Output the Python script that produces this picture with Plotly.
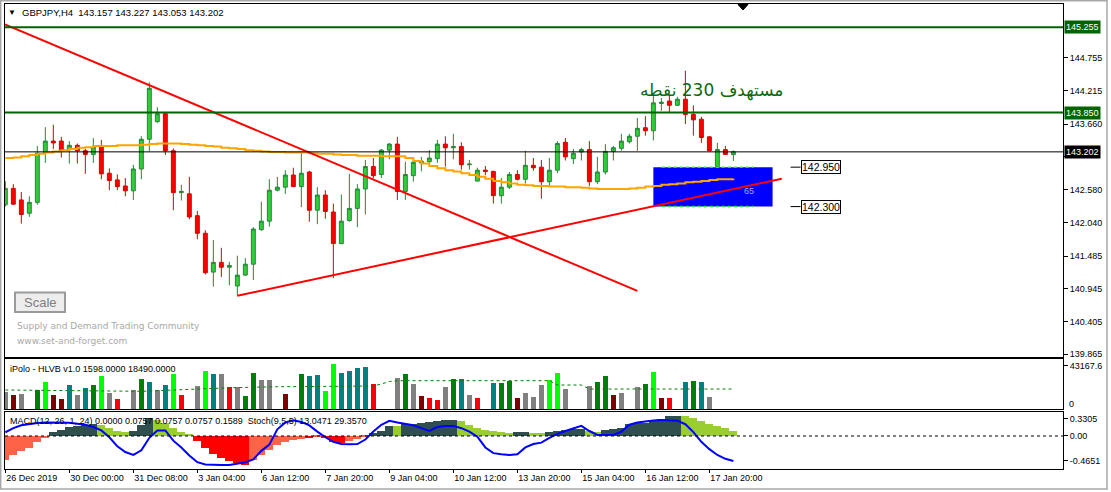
import plotly.graph_objects as go

# ---------------- data ----------------
bar_index = list(range(92))

opens = [142.33, 142.60, 142.41, 142.19, 142.37, 143.19, 143.38, 143.38, 143.24, 143.31,
         143.22, 143.16, 143.29, 142.85, 142.74, 142.64, 142.56, 142.92, 143.41, 143.70,
         143.83, 143.22, 142.53, 142.51, 142.15, 141.86, 141.22, 141.38, 141.30, 140.99,
         141.17, 141.35, 141.92, 142.06, 142.57, 142.62, 142.82, 142.63, 142.87, 142.24,
         142.49, 142.21, 141.69, 142.07, 142.27, 142.59, 142.96, 142.83, 143.23, 143.33,
         142.55, 142.81, 143.02, 143.04, 143.09, 143.33, 143.27, 143.29, 142.99, 142.72,
         142.90, 142.88, 142.48, 142.62, 142.83, 142.75, 142.98, 142.95, 142.71, 142.90,
         143.36, 143.09, 143.20, 143.24, 142.71, 142.87, 143.21, 143.26, 143.37, 143.46,
         143.60, 143.55, 144.00, 144.04, 143.97, 144.07, 143.82, 143.74, 143.45, 142.96,
         143.24, 143.157]
highs = [142.72, 142.67, 142.54, 142.47, 143.30, 143.61, 143.65, 143.45, 143.38, 143.34,
         143.25, 143.43, 143.40, 142.93, 142.83, 142.77, 142.99, 143.46, 144.35, 143.94,
         143.86, 143.26, 142.66, 142.79, 142.23, 141.91, 141.75, 141.62, 141.39, 141.49,
         141.45, 141.96, 142.38, 142.75, 142.79, 142.90, 142.94, 143.19, 142.89, 142.62,
         142.57, 142.35, 142.50, 142.84, 142.67, 143.07, 143.10, 143.25, 143.35, 143.45,
         143.04, 143.10, 143.12, 143.23, 143.40, 143.46, 143.50, 143.36, 143.07, 142.94,
         142.97, 142.89, 142.77, 142.87, 142.90, 143.22, 143.10, 143.07, 143.10, 143.38,
         143.43, 143.25, 143.27, 143.38, 143.12, 143.33, 143.30, 143.50, 143.50, 143.76,
         143.79, 144.13, 144.09, 144.14, 144.11, 144.54, 143.97, 143.78, 143.46, 143.35,
         143.30, 143.227]
lows = [142.30, 142.33, 142.02, 142.13, 142.33, 143.02, 143.25, 143.11, 143.01, 143.01,
        142.84, 143.02, 142.75, 142.57, 142.57, 142.47, 142.41, 142.75, 143.21, 143.68,
        143.15, 142.24, 142.40, 142.09, 141.76, 141.18, 140.98, 141.14, 141.00, 140.83,
        141.16, 141.09, 141.90, 141.97, 142.55, 142.51, 142.62, 142.29, 142.05, 142.01,
        142.10, 141.12, 141.68, 142.05, 141.96, 142.17, 142.77, 142.77, 143.08, 142.41,
        142.41, 142.71, 142.88, 143.01, 143.02, 142.96, 143.08, 142.91, 142.91, 142.72,
        142.82, 142.35, 142.35, 142.59, 142.73, 142.68, 142.89, 142.43, 142.64, 142.85,
        143.06, 143.00, 143.06, 142.64, 142.67, 142.83, 143.06, 143.22, 143.34, 143.22,
        143.47, 143.39, 143.88, 143.86, 143.96, 143.66, 143.47, 143.35, 143.21, 142.95,
        143.15, 143.053]
closes = [142.60, 142.34, 142.17, 142.37, 143.18, 143.38, 143.35, 143.23, 143.31, 143.22,
          143.16, 143.28, 142.84, 142.73, 142.63, 142.56, 142.92, 143.41, 144.25, 143.83,
          143.22, 142.53, 142.55, 142.13, 141.86, 141.21, 141.38, 141.30, 141.33, 141.17,
          141.35, 141.93, 142.06, 142.57, 142.62, 142.82, 142.63, 142.85, 142.24, 142.49,
          142.22, 141.69, 142.06, 142.27, 142.59, 142.96, 142.81, 143.23, 143.33, 142.55,
          142.83, 143.03, 143.05, 143.10, 143.33, 143.27, 143.29, 142.99, 143.00, 142.90,
          142.88, 142.48, 142.62, 142.83, 142.75, 142.98, 142.94, 142.71, 142.90, 143.34,
          143.12, 143.18, 143.24, 142.71, 142.87, 143.21, 143.27, 143.38, 143.46, 143.59,
          143.55, 144.01, 144.02, 143.97, 144.07, 143.82, 143.73, 143.44, 143.22, 143.24,
          143.16, 143.202]

ma_line = [143.10, 143.11, 143.13, 143.15, 143.17, 143.19, 143.21, 143.23,
           143.25, 143.27, 143.28, 143.30, 143.30, 143.30, 143.31, 143.31, 143.31,
           143.32, 143.33, 143.34, 143.34, 143.34, 143.33, 143.32, 143.31,
           143.30, 143.29, 143.27, 143.26, 143.25, 143.23, 143.22, 143.21, 143.20,
           143.20, 143.19, 143.19, 143.19, 143.18, 143.17, 143.17, 143.16,
           143.15, 143.15, 143.14, 143.14, 143.14, 143.13, 143.13, 143.13,
           143.10, 143.05, 143.01, 142.97, 142.93, 142.90, 142.88, 142.85,
           142.82, 142.79, 142.76, 142.72, 142.70, 142.68, 142.66, 142.65,
           142.64, 142.64, 142.63, 142.63, 142.62, 142.62, 142.61, 142.60,
           142.59, 142.59, 142.59, 142.59, 142.60, 142.61, 142.63, 142.64,
           142.66, 142.67, 142.68, 142.70, 142.71, 142.72, 142.74, 142.75,
           142.75, 142.76]

trend_down_x = [-0.04, 79.0]
trend_down_y = [145.305, 140.91]
trend_up_x = [29.0, 97.05]
trend_up_y = [140.83, 142.76]

level_top = 145.255
level_mid = 143.850
last_price = 143.202
zone_x = [81.0, 95.9]
zone_top = 142.950
zone_bottom = 142.300
zone_dash_x = [82.05, 93.5]
zone_label_x = 99.4

volume = [16700, 14300, 15300, None, 18700, 27300, 14300, 9700, 24300, 14300,
          21300, 24300, 33300, 15700, 9700, None, 18700, 30300, 27300, 18700,
          24300, 35300, 14300, None, 23300, 38300, 35300, 35300, 22300, 22300,
          13300, 36300, 29300, 29300, None, 15300, None, 35300, 33300, 34300,
          17700, 45300, 36300, 38300, 41300, 42300, 25300, None, None, 31300,
          35300, 25300, 13300, 11300, 8700, 22300, 30300, 30300, 14300, 11300,
          None, 26300, 26300, 28300, 11300, 16300, 12300, 24300, 29300, 35700,
          19700, None, None, 23300, 26700, 33300, 14300, 16300, None, 22300,
          25300, 37300, 11300, 11300, None, 26700, 28300, 26700, 12300, None,
          None, None]
volume_kind = ['g', 'm', 'g', '', 'd', 'l', 'm', 'm', 't', 'g',
               't', 'd', 'l', 'g', 'r', '', 'g', 'd', 't', 'g',
               't', 'l', 'r', '', 'g', 'l', 't', 'g', 'r', 'g',
               'd', 'd', 'g', 'g', '', 'm', '', 'd', 't', 't',
               'l', 'l', 't', 't', 't', 't', 'r', '', '', 'g',
               'd', 'g', 'm', 'r', 'r', 'g', 'd', 't', 'g', 'r',
               '', 't', 'd', 'd', 'm', 'g', 'g', 'g', 'l', 'l',
               'g', '', '', 'g', 'd', 'd', 'm', 'g', '', 'g',
               'd', 'l', 'm', 'r', '', 't', 'd', 't', 'g', '',
               '', '']
volume_avg = [19000, 18900, 18800, 18700, 18600, 18500, 18400, 18300, 18200, 18100,
              18000, 18000, 17900, 17800, 17700, 17500, 17300, 17700, 18000, 18400,
              18800, 19200, 19500, 19800, 20000, 20300, 20600, 20900, 21200, 21500,
              21700, 21900, 22100, 22200, 22300, 22300, 22400, 22500, 22600, 22700,
              22800, 22900, 23000, 23000, 23000, 23000, 23000, 25000, 27500, 28300,
              28300, 28300, 28300, 28300, 28300, 28300, 28300, 28300, 28300, 28300,
              28300, 28300, 28300, 28300, 28300, 28300, 28300, 28300, 28300, 24000,
              24000, 24000, 24000, 20000, 20000, 20000, 20000, 20000, 20000, 20000,
              20000, 20000, 20000, 20000, 20000, 20000, 20000, 20000, 20000, 20000,
              20000, 20000]

macd_hist = [-0.453, -0.358, -0.296, -0.233, -0.119, -0.044, 0.069, 0.113, 0.157, 0.189,
             0.208, 0.226, 0.208, 0.145, 0.094, 0.069, 0.094, 0.208, 0.333, 0.302,
             0.239, 0.145, 0.069, 0.019, -0.107, -0.233, -0.346, -0.421, -0.472, -0.516,
             -0.560, -0.453, -0.358, -0.264, -0.182, -0.126, -0.088, -0.057, -0.044, -0.031,
             -0.044, -0.119, -0.138, -0.094, -0.057, -0.031, 0.050, 0.094, 0.176, 0.189,
             0.220, 0.220, 0.239, 0.252, 0.283, 0.296, 0.302, 0.270, 0.208, 0.145,
             0.113, 0.094, 0.069, 0.050, 0.069, 0.069, 0.050, 0.044, 0.063, 0.094,
             0.113, 0.132, 0.132, 0.082, 0.069, 0.107, 0.119, 0.145, 0.226, 0.233,
             0.245, 0.302, 0.308, 0.365, 0.365, 0.365, 0.333, 0.270, 0.226, 0.189,
             0.145, 0.094]
macd_kind = ['s', 's', 's', 's', 's', 's', 'k', 'k', 'k', 'k',
             'k', 'k', 'y', 'y', 'y', 'y', 'k', 'k', 'k', 'y',
             'y', 'y', 'y', 'y', 'r', 'r', 'r', 'r', 'r', 'r',
             'r', 's', 's', 's', 's', 's', 's', 's', 'r', 's',
             'r', 'r', 'r', 's', 's', 's', 'k', 'k', 'k', 'y',
             'k', 'k', 'k', 'k', 'k', 'k', 'k', 'y', 'y', 'y',
             'y', 'y', 'y', 'y', 'k', 'k', 'y', 'y', 'k', 'k',
             'k', 'k', 'k', 'y', 'y', 'k', 'k', 'k', 'k', 'k',
             'k', 'k', 'k', 'k', 'k', 'y', 'y', 'y', 'y', 'y',
             'y', 'y']
stoch = [64.7, 72, 77, 79.5, 81, 82, 82.3, 82, 81.7, 80,
         78, 74, 68, 56, 40, 30, 25, 33, 55, 68,
         68, 50, 38, 24, 12, 8, 7, 7, 7, 9,
         12, 17, 32, 43, 70, 82, 86, 83, 77, 66,
         56, 48, 44, 43.5, 44, 52, 66, 78, 85, 82,
         79, 77, 72, 67, 74, 76, 76, 72, 66, 57,
         38, 28, 26, 24.5, 26, 38, 44, 46.5, 55, 62,
         67, 72, 76, 67, 60, 60, 60, 66, 78, 82,
         84, 85.5, 86.4, 86, 85.2, 79, 65, 48, 35, 24.7,
         18, 14]

time_tick_bars = [0, 8, 16, 24, 32, 40, 48, 56, 64, 72, 80, 88]
time_tick_labels = ["26 Dec 2019", "30 Dec 00:00", "31 Dec 08:00", "3 Jan 04:00",
                    "6 Jan 12:00", "7 Jan 20:00", "9 Jan 04:00", "10 Jan 12:00",
                    "13 Jan 20:00", "15 Jan 04:00", "16 Jan 12:00", "17 Jan 20:00"]
price_ticks = [144.755, 144.215, 143.660, 143.120, 142.580, 142.040,
               141.485, 140.945, 140.405, 139.865]
# the 143.120 label sits under the current-price box in the reference
price_tick_text = ["144.755", "144.215", "143.660", "", "142.580", "142.040",
                   "141.485", "140.945", "140.405", "139.865"]
volume_ticks = [43167.6]
macd_ticks = [0.3305, 0.0, -0.4651]
macd_tick_text = ["0.3305", "0.00", "-0.4651"]

title_text = "GBPJPY,H4\u00a0\u00a0143.157 143.227 143.053 143.202"
vol_label = "iPolo - HLVB v1.0 1598.0000 18490.0000"
macd_label = "MACD(12, 26, 1, 24) 0.0000 0.0757 0.0757 0.0757 0.1589\u00a0\u00a0Stoch(9,5,5) 13.0471 29.3570"
target_text = "مستهدف 230 نقطه"

# ---------------- layout geometry ----------------
W, H = 1111, 492
L, R, T, B = 5, 48, 4, 23
PW, PH = W - L - R, H - T - B


def px_x(px):
    return (px - L) / PW


def px_y(py):
    return (H - B - py) / PH


FONT = "Liberation Sans, Arial, sans-serif"
vol_cmap = {'g': '#808080', 'm': '#800000', 'd': '#008000', 'l': '#00FF00',
            't': '#008080', 'r': '#FF0000', '': 'rgba(0,0,0,0)'}
macd_cmap = {'s': '#FF6347', 'r': '#FF0000', 'k': '#2F4F4F', 'y': '#9ACD32'}

fig = go.Figure()

fig.add_trace(go.Candlestick(
    x=bar_index, open=opens, high=highs, low=lows, close=closes,
    increasing=dict(line=dict(color='#21873A', width=1), fillcolor='#32CD32'),
    decreasing=dict(line=dict(color='#D40000', width=1), fillcolor='#FF0000'),
    whiskerwidth=0, xaxis='x', yaxis='y', hoverinfo='skip'))

fig.add_trace(go.Scatter(x=bar_index, y=ma_line, mode='lines', line_shape='hv',
                         line=dict(color='#FFA500', width=2), xaxis='x', yaxis='y',
                         hoverinfo='skip'))
fig.add_trace(go.Scatter(x=trend_down_x, y=trend_down_y, mode='lines',
                         line=dict(color='#FF0000', width=2), xaxis='x', yaxis='y',
                         hoverinfo='skip'))
fig.add_trace(go.Scatter(x=trend_up_x, y=trend_up_y, mode='lines',
                         line=dict(color='#FF0000', width=2), xaxis='x', yaxis='y',
                         hoverinfo='skip'))

fig.add_trace(go.Bar(x=bar_index, y=volume, width=0.62,
                     marker=dict(color=[vol_cmap[k] for k in volume_kind], line=dict(width=0)),
                     xaxis='x2', yaxis='y2', hoverinfo='skip'))
fig.add_trace(go.Scatter(x=bar_index, y=volume_avg, mode='lines',
                         line=dict(color='#008000', width=1, dash='3px,3px'),
                         xaxis='x2', yaxis='y2', hoverinfo='skip'))

fig.add_trace(go.Bar(x=bar_index, y=macd_hist, width=1.0,
                     marker=dict(color=[macd_cmap[k] for k in macd_kind], line=dict(width=0)),
                     xaxis='x3', yaxis='y3', hoverinfo='skip'))
fig.add_trace(go.Scatter(x=bar_index, y=stoch, mode='lines',
                         line=dict(color='#0000FF', width=2),
                         xaxis='x3', yaxis='y4', hoverinfo='skip'))

xr = [-0.04, 132.2]
axis_common = dict(showline=True, mirror=True, linecolor='black', linewidth=1,
                   showgrid=False, zeroline=False)

fig.update_layout(
    width=W, height=H, margin=dict(l=L, r=R, t=T, b=B),
    paper_bgcolor='white', plot_bgcolor='white', showlegend=False,
    font=dict(family=FONT, size=9, color='black'),
    hovermode=False, bargap=0, boxgap=0.3,
    xaxis=dict(domain=[0, 1], anchor='y', range=xr, showticklabels=False, ticks='',
               rangeslider=dict(visible=False), **axis_common),
    xaxis2=dict(domain=[0, 1], anchor='y2', matches='x', range=xr, showticklabels=False,
                ticks='', **axis_common),
    xaxis3=dict(domain=[0, 1], anchor='y3', matches='x', range=xr,
                tickmode='array', tickvals=time_tick_bars, ticktext=time_tick_labels,
                ticks='outside', ticklen=3, tickcolor='black',
                ticklabelposition='outside right',
                tickfont=dict(size=9, family=FONT, color='black'), **axis_common),
    yaxis=dict(domain=[px_y(357), px_y(4)], anchor='x', range=[139.820, 145.640],
               side='right', tickmode='array', tickvals=price_ticks, ticktext=price_tick_text,
               ticks='outside', ticklen=4, tickcolor='black',
               tickfont=dict(size=9, family=FONT, color='black'), **axis_common),
    yaxis2=dict(domain=[px_y(409), px_y(359)], anchor='x2', range=[0, 50000],
                side='right', tickmode='array', tickvals=volume_ticks, ticktext=['43167.6'],
                ticks='outside', ticklen=4, tickcolor='black',
                tickfont=dict(size=9, family=FONT, color='black'), **axis_common),
    yaxis3=dict(domain=[px_y(469), px_y(412.3)], anchor='x3', range=[-0.623, 0.447],
                side='right', tickmode='array', tickvals=macd_ticks, ticktext=macd_tick_text,
                ticks='outside', ticklen=4, tickcolor='black',
                tickfont=dict(size=9, family=FONT, color='black'), **axis_common),
    yaxis4=dict(overlaying='y3', range=[0, 100], visible=False),
)

shapes = []
# horizontal levels
for lvl, col, w in [(level_top, '#006400', 2), (level_mid, '#006400', 2), (last_price, 'black', 1)]:
    shapes.append(dict(type='line', xref='x domain', yref='y', x0=0, x1=1, y0=lvl, y1=lvl,
                       line=dict(color=col, width=w)))
# demand zone rectangle
shapes.append(dict(type='rect', xref='x', yref='y', x0=zone_x[0], x1=zone_x[1],
                   y0=zone_bottom, y1=zone_top, fillcolor='#0000FF', line=dict(width=0),
                   layer='below'))
for lvl in (zone_top, zone_bottom):
    shapes.append(dict(type='line', xref='x', yref='y', x0=zone_dash_x[0], x1=zone_dash_x[1],
                       y0=lvl, y1=lvl, line=dict(color='#22EE22', width=1.5, dash='3px,3px')))
    shapes.append(dict(type='line', xref='x', yref='y', x0=zone_label_x - 1.25,
                       x1=zone_label_x, y0=lvl, y1=lvl, line=dict(color='black', width=1)))
# MACD zero line
shapes.append(dict(type='line', xref='x3 domain', yref='y3', x0=0, x1=1, y0=0, y1=0,
                   line=dict(color='black', width=1, dash='3px,3px')))
# Scale button
shapes.append(dict(type='rect', xref='paper', yref='paper', x0=px_x(15), x1=px_x(65),
                   y0=px_y(312), y1=px_y(292.5), fillcolor='#EDEDED',
                   line=dict(color='#9A9A9A', width=2)))
# chart shift marker
tx0, tx1, txm = px_x(738), px_x(748), px_x(743)
ty0, ty1 = px_y(4.5), px_y(10)
shapes.append(dict(type='path', xref='paper', yref='paper',
                   path=f"M {tx0} {ty0} L {tx1} {ty0} L {txm} {ty1} Z",
                   fillcolor='black', line=dict(color='black', width=1)))
# window frame
shapes.append(dict(type='rect', xref='paper', yref='paper', x0=px_x(0.7), x1=px_x(1107),
                   y0=px_y(489), y1=px_y(0.7), line=dict(color='#A8A8A8', width=1.5)))
fig.update_layout(shapes=shapes)

ann = []
ann.append(dict(xref='paper', yref='paper', x=px_x(12), y=px_y(12), text='▼', showarrow=False,
                font=dict(size=8, color='black'), xanchor='center', yanchor='middle'))
ann.append(dict(xref='paper', yref='paper', x=px_x(20), y=px_y(12), text=title_text,
                showarrow=False, font=dict(size=9.5, color='black', family=FONT),
                xanchor='left', yanchor='middle'))
ann.append(dict(xref='paper', yref='paper', x=px_x(8), y=px_y(368.5), text=vol_label,
                showarrow=False, font=dict(size=9, color='black', family=FONT),
                xanchor='left', yanchor='middle'))
ann.append(dict(xref='paper', yref='paper', x=px_x(8), y=px_y(421), text=macd_label,
                showarrow=False, font=dict(size=9, color='black', family=FONT),
                xanchor='left', yanchor='middle'))
# right axis price boxes
for lvl, bg in [(level_top, '#006400'), (level_mid, '#006400'), (last_price, '#000000')]:
    ann.append(dict(xref='paper', yref='y', x=1, y=lvl, text=f"{lvl:.3f}", showarrow=False,
                    xanchor='left', yanchor='middle', xshift=1, bgcolor=bg, borderpad=1,
                    font=dict(size=9, color='white', family=FONT)))
# zone labels
for lvl in (zone_top, zone_bottom):
    ann.append(dict(xref='x', yref='y', x=zone_label_x, y=lvl, text=f"{lvl:.3f}",
                    showarrow=False, xanchor='left', yanchor='middle', bgcolor='white',
                    bordercolor='black', borderwidth=1, borderpad=0,
                    font=dict(size=10.5, color='black', family=FONT)))
ann.append(dict(xref='x', yref='y', x=92.9, y=142.55, text='65', showarrow=False,
                xanchor='center', yanchor='middle',
                font=dict(size=9, color='#A8A8FF', family=FONT)))
# target text
ann.append(dict(xref='x', yref='y', x=97.5, y=144.21, text=target_text, showarrow=False,
                xanchor='right', yanchor='middle',
                font=dict(size=17, color='#0A6A0A', family='DejaVu Sans')))
# Scale button text + watermark
ann.append(dict(xref='paper', yref='paper', x=px_x(40), y=px_y(302), text='Scale',
                showarrow=False, xanchor='center', yanchor='middle',
                font=dict(size=13, color='#808080', family=FONT)))
ann.append(dict(xref='paper', yref='paper', x=px_x(15), y=px_y(325.5),
                text='Supply and Demand Trading Community', showarrow=False, xanchor='left',
                yanchor='middle', font=dict(size=9, color='#A9A9A9', family='DejaVu Sans')))
ann.append(dict(xref='paper', yref='paper', x=px_x(15), y=px_y(340.5),
                text='www.set-and-forget.com', showarrow=False, xanchor='left',
                yanchor='middle', font=dict(size=9, color='#A9A9A9', family='DejaVu Sans')))
# volume panel minimum label
ann.append(dict(xref='paper', yref='paper', x=1, y=px_y(403.5), text='0', showarrow=False,
                xanchor='left', yanchor='middle', xshift=4,
                font=dict(size=9, color='black', family=FONT)))
fig.update_layout(annotations=ann)

fig.write_html("out.html")
